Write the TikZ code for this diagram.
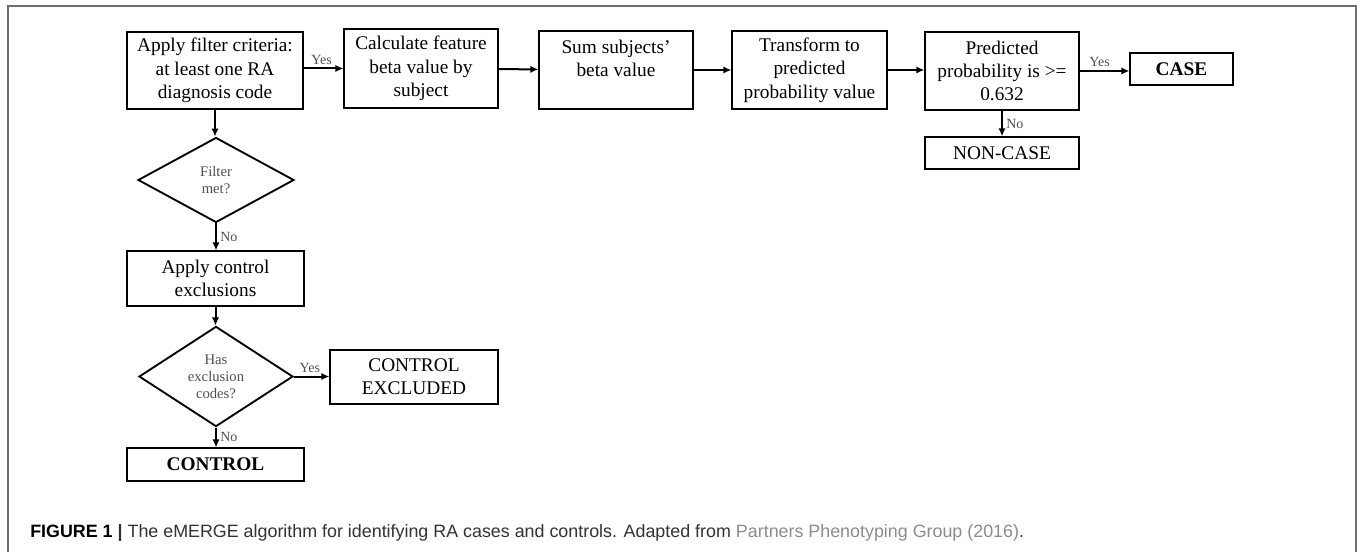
\documentclass[tikz,border=0pt]{standalone}
\usepackage{fontspec}
\setmainfont{Liberation Serif}
\newfontfamily\capfont{Liberation Sans}
\definecolor{framegray}{RGB}{110, 110, 110}
\definecolor{lblgray}{RGB}{80, 80, 80}
\definecolor{captext}{RGB}{50, 50, 50}
\definecolor{linkgray}{RGB}{140, 140, 140}
\usetikzlibrary{shapes.geometric, arrows.meta, positioning}

\begin{document}
\begin{tikzpicture}[x=0.75pt, y=-0.75pt,
  blk/.style={draw, line width=1pt, inner sep=0pt, align=center,
              font=\fontsize{14.5}{17.5}\selectfont},
  dec/.style={draw, diamond, line width=1.4pt, inner sep=0pt, align=center,
              text=lblgray, font=\fontsize{11}{12.8}\selectfont},
  lbl/.style={font=\fontsize{10.5}{12}\selectfont, text=lblgray, inner sep=2.5pt},
  arr/.style={-{Latex[length=6pt,width=5.5pt]}, line width=1.5pt},
]
\useasboundingbox (0,0) rectangle (1360,552);

% outer frame
\draw[framegray, line width=1.5pt] (8,552) -- (8,6) -- (1356,6) -- (1356,552);

% main row
\node[blk, minimum width=132pt, minimum height=57.75pt] (filt) at (215,70.5)
  {Apply filter criteria:\\at least one RA\\diagnosis code};
\node[blk, minimum width=115.5pt, minimum height=59.25pt] (calc) at (421,68.5)
  {Calculate feature\\beta value by\\subject};
\node[blk, minimum width=115.5pt, minimum height=58.5pt] (sum) at (616,70)
  {Sum subjects'\\beta value\\\phantom{beta value}};
\node[blk, minimum width=116.25pt, minimum height=58.5pt] (trans) at (809.5,70)
  {Transform to\\predicted\\probability value};
\node[blk, minimum width=115.5pt, minimum height=58.5pt] (pred) at (1002,71)
  {Predicted\\probability is >=\\0.632};
\node[blk, minimum width=77.25pt, minimum height=24pt, font=\fontsize{14.5}{17.5}\selectfont\bfseries] (case) at (1181.5,69) {CASE};
\node[blk, minimum width=115.5pt, minimum height=24pt] (noncase) at (1002,153) {NON-CASE};

% control branch
\node[dec, minimum width=117pt, minimum height=63.75pt] (met) at (216,180) {Filter\\met?};
\node[blk, minimum width=132.75pt, minimum height=41.25pt] (excl) at (215.5,278.5)
  {Apply control\\exclusions};
\node[dec, minimum width=115.5pt, minimum height=63.75pt] (hasex) at (216,376.5)
  {Has\\exclusion\\codes?};
\node[blk, minimum width=126pt, minimum height=40.5pt] (ctrlex) at (414,377)
  {CONTROL\\EXCLUDED};
\node[blk, minimum width=132.75pt, minimum height=24.75pt, font=\fontsize{14.5}{17.5}\selectfont\bfseries] (ctrl) at (215.5,464.5) {CONTROL};

% connectors
\draw[arr] (filt.east |- calc) -- node[lbl, above, pos=0.45] {Yes} (calc.west);
\draw[arr] (calc) -- (sum);
\draw[arr] (sum) -- (trans);
\draw[arr] (trans.east) -- (trans.east -| pred.west);
\draw[arr] (pred.east) -- node[lbl, above, pos=0.4] {Yes} (pred.east -| case.west);
\draw[arr] (pred) -- node[lbl, right] {No} (noncase);
\draw[arr] (filt.south) -- (filt.south |- met.north);
\draw[arr] (met.south) -- node[lbl, right] {No} (met.south |- excl.north);
\draw[arr] (excl.south) -- (excl.south |- hasex.north);
\draw[arr] (hasex.east) -- node[lbl, above, pos=0.45] {Yes} (hasex.east -| ctrlex.west);
\draw[arr] (hasex.south) -- node[lbl, right] {No} (hasex.south |- ctrl.north);

% caption
\node[anchor=west, inner sep=0pt, text=captext, font=\capfont\fontsize{13.4}{15}\selectfont] (cap) at (30,533)
  {\textbf{\color{black}FIGURE 1} \textbf{|} The eMERGE algorithm for identifying RA cases and controls. Adapted from {\color{linkgray}Partners Phenotyping Group (2016)}.};
\end{tikzpicture}
\end{document}
